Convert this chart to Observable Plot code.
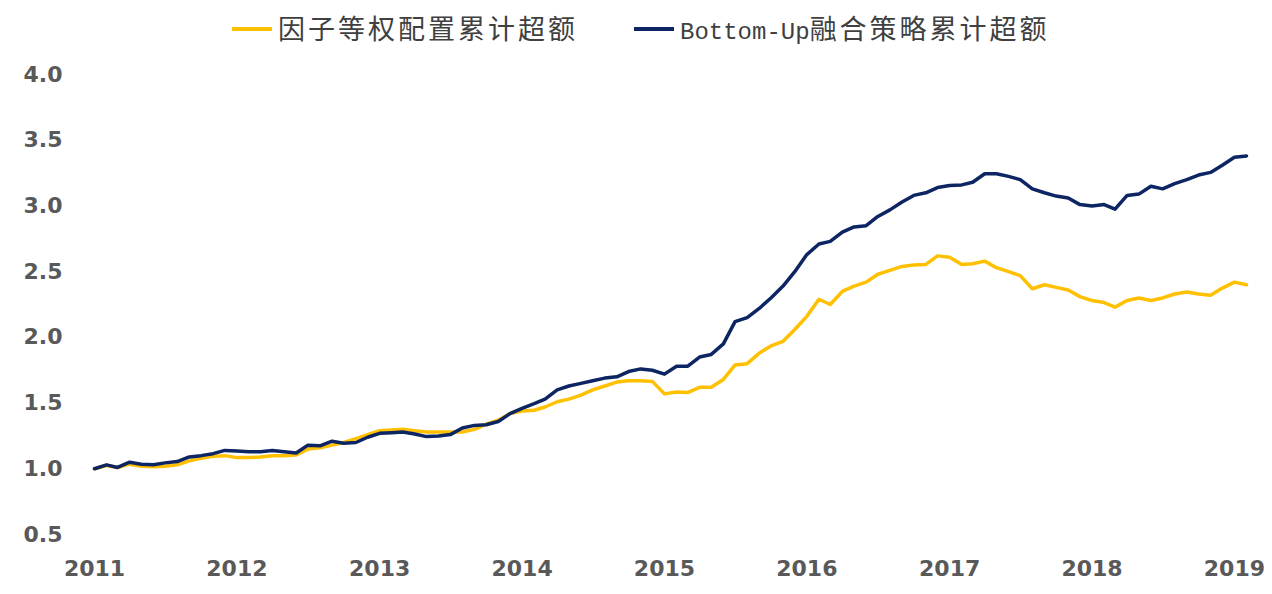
<!DOCTYPE html>
<html>
<head>
<meta charset="utf-8">
<script src="https://cdn.jsdelivr.net/npm/d3@7"></script>
<script src="https://cdn.jsdelivr.net/npm/@observablehq/plot@0.6"></script>
<style>
  html, body { margin: 0; padding: 0; background: #ffffff; width: 1272px; height: 594px; overflow: hidden; }
  #legend { position: relative; height: 56px; width: 1272px; }
  .sw { position: absolute; top: 27px; width: 40px; height: 4px; }
  .lt { position: absolute; top: 10px; font-family: "Noto Sans CJK SC", sans-serif; font-size: 27px; letter-spacing: 3px; color: #404040; line-height: 36px; white-space: nowrap; }
  .mono { font-family: "Liberation Mono", monospace; font-size: 24px; letter-spacing: 0px; }
</style>
</head>
<body>
<div id="legend"></div>
<div id="chart"></div>
<script>
const seriesNames = ["因子等权配置累计超额", "Bottom-Up融合策略累计超额"];
const seriesColors = ["#FFC000", "#0D2562"];
const yearTicks = ["2011","2012","2013","2014","2015","2016","2017","2018","2019"];
const yTicks = [0.5, 1.0, 1.5, 2.0, 2.5, 3.0, 3.5, 4.0];

const dates = [
  "2011-01","2011-02","2011-03","2011-04","2011-05","2011-06","2011-07","2011-08","2011-09","2011-10","2011-11","2011-12",
  "2012-01","2012-02","2012-03","2012-04","2012-05","2012-06","2012-07","2012-08","2012-09","2012-10","2012-11","2012-12",
  "2013-01","2013-02","2013-03","2013-04","2013-05","2013-06","2013-07","2013-08","2013-09","2013-10","2013-11","2013-12",
  "2014-01","2014-02","2014-03","2014-04","2014-05","2014-06","2014-07","2014-08","2014-09","2014-10","2014-11","2014-12",
  "2015-01","2015-02","2015-03","2015-04","2015-05","2015-06","2015-07","2015-08","2015-09","2015-10","2015-11","2015-12",
  "2016-01","2016-02","2016-03","2016-04","2016-05","2016-06","2016-07","2016-08","2016-09","2016-10","2016-11","2016-12",
  "2017-01","2017-02","2017-03","2017-04","2017-05","2017-06","2017-07","2017-08","2017-09","2017-10","2017-11","2017-12",
  "2018-01","2018-02","2018-03","2018-04","2018-05","2018-06","2018-07","2018-08","2018-09","2018-10","2018-11","2018-12",
  "2019-01","2019-02"
];

// 因子等权配置累计超额
const factorEqual = [
  1.00,1.025,1.01,1.035,1.02,1.015,1.02,1.03,1.06,1.08,1.095,1.10,
  1.085,1.085,1.09,1.10,1.10,1.105,1.15,1.16,1.18,1.20,1.23,1.26,
  1.29,1.295,1.30,1.29,1.28,1.28,1.28,1.28,1.30,1.34,1.37,1.42,
  1.44,1.445,1.47,1.51,1.53,1.56,1.60,1.63,1.66,1.67,1.67,1.665,
  1.57,1.585,1.58,1.62,1.62,1.68,1.79,1.80,1.88,1.935,1.97,2.06,
  2.16,2.29,2.25,2.35,2.39,2.42,2.48,2.51,2.54,2.55,2.555,2.62,
  2.61,2.555,2.56,2.58,2.53,2.50,2.47,2.37,2.40,2.38,2.36,2.31,
  2.28,2.265,2.23,2.28,2.30,2.28,2.30,2.33,2.345,2.33,2.32,2.375,
  2.42,2.40
];

// Bottom-Up融合策略累计超额
const bottomUp = [
  1.00,1.03,1.01,1.05,1.035,1.03,1.045,1.055,1.09,1.10,1.115,1.14,
  1.135,1.13,1.13,1.14,1.13,1.12,1.18,1.175,1.21,1.195,1.20,1.24,
  1.27,1.275,1.28,1.265,1.245,1.25,1.26,1.31,1.33,1.335,1.36,1.42,
  1.46,1.495,1.53,1.60,1.63,1.65,1.67,1.69,1.70,1.74,1.76,1.75,
  1.72,1.78,1.78,1.85,1.87,1.95,2.12,2.15,2.22,2.30,2.39,2.50,
  2.63,2.71,2.73,2.80,2.84,2.85,2.92,2.97,3.03,3.08,3.10,3.14,
  3.155,3.16,3.18,3.245,3.245,3.225,3.20,3.13,3.10,3.075,3.06,3.01,
  3.00,3.01,2.975,3.08,3.09,3.15,3.13,3.17,3.20,3.235,3.255,3.31,
  3.37,3.38
];

// legend
const legend = document.getElementById("legend");
const legendItems = [
  {swX: 232, txtX: 278, name: seriesNames[0], color: seriesColors[0], latin: ""},
  {swX: 634, txtX: 680, name: seriesNames[1], color: seriesColors[1], latin: "Bottom-Up"}
];
for (const it of legendItems) {
  const sw = document.createElement("div");
  sw.className = "sw"; sw.style.left = it.swX + "px"; sw.style.background = it.color;
  legend.appendChild(sw);
  const t = document.createElement("div");
  t.className = "lt"; t.style.left = it.txtX + "px";
  if (it.latin) {
    const s = document.createElement("span"); s.className = "mono"; s.textContent = it.latin;
    t.appendChild(s);
    t.appendChild(document.createTextNode(it.name.slice(it.latin.length)));
  } else {
    t.textContent = it.name;
  }
  legend.appendChild(t);
}

const parse = d3.utcParse("%Y-%m");
const rows = [];
dates.forEach((d, i) => {
  rows.push({date: parse(d), value: factorEqual[i], series: seriesNames[0]});
});
dates.forEach((d, i) => {
  rows.push({date: parse(d), value: bottomUp[i], series: seriesNames[1]});
});

const xTickDates = yearTicks.map(y => d3.utcParse("%Y")(y));

const chart = Plot.plot({
  width: 1272,
  height: 538,
  marginLeft: 94,
  marginRight: 26,
  marginTop: 18,
  marginBottom: 60,
  style: {fontFamily: "DejaVu Sans", background: "transparent"},
  x: {
    type: "utc",
    domain: [parse("2011-01"), parse("2019-02")],
    label: null
  },
  y: {
    domain: [0.5, 4.0],
    label: null
  },
  color: {domain: seriesNames, range: seriesColors},
  marks: [
    Plot.axisX({ticks: xTickDates, tickFormat: d3.utcFormat("%Y"), tickSize: 0, tickPadding: 26, label: null, fontSize: 22, fontWeight: "bold", fill: "#595959"}),
    Plot.axisY({ticks: yTicks, tickFormat: d3.format(".1f"), tickSize: 0, tickPadding: 32, label: null, fontSize: 22, fontWeight: "bold", fill: "#595959"}),
    Plot.line(rows, {x: "date", y: "value", z: "series", stroke: "series", strokeWidth: 3.5, curve: "linear"})
  ]
});
document.getElementById("chart").appendChild(chart);
</script>
</body>
</html>
